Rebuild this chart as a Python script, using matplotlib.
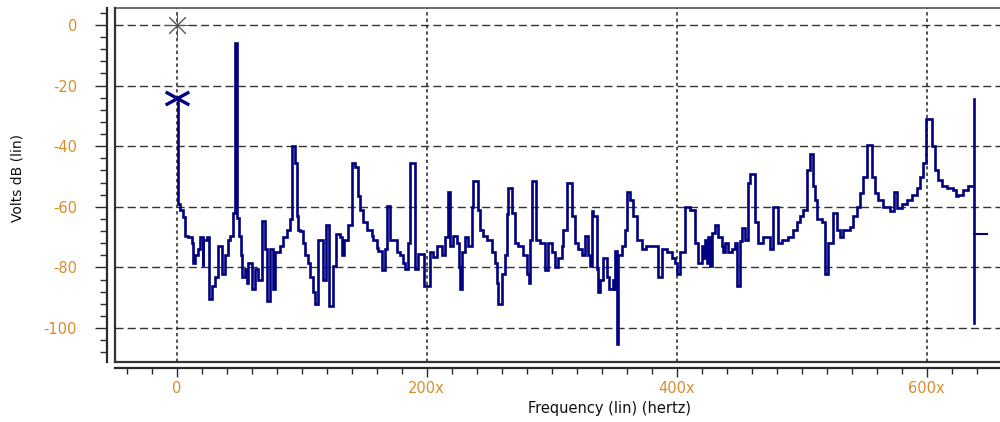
import matplotlib
matplotlib.use("Agg")
import matplotlib.pyplot as plt
from matplotlib.path import Path
from matplotlib.lines import Line2D
from matplotlib.ticker import MultipleLocator, FixedLocator

# ---------------- data ----------------
freq_hz = [
    0, 1, 2.8, 4.8, 6.7, 9.5, 12, 13, 14.8, 17, 19, 21, 21.5, 24, 26, 28, 31, 33.5,
    36, 38.5, 41.5, 43, 45.5, 47, 48.3, 50.3, 51.5, 52.2, 54.8, 56.5, 57.5, 60.2,
    62.8, 65.5, 68, 70.8, 72, 74.8, 77.5, 78.8, 82.8, 85.5, 88, 90.8, 92.1, 94.8,
    96, 97.5, 98.8, 101.5, 102.8, 105, 107, 109, 110.8, 113.5, 117, 119.5, 122,
    125.5, 127.5, 131, 132.5, 134, 137.5, 140, 143, 145, 147, 149.5, 152, 156,
    157.5, 160, 161.5, 164.5, 167, 168.5, 171, 176, 178.8, 181, 183, 185.5, 187,
    190.5, 193.5, 198, 200, 202.5, 205.5, 208, 212, 214.8, 217.5, 219, 221.5,
    224, 226, 226.5, 228.5, 231, 233.5, 236, 237.5, 241.5, 243, 245.5, 248, 252,
    254.8, 256, 257.5, 260, 262.8, 264, 265.5, 268.5, 271, 273.5, 277.5, 280,
    282, 283, 284.5, 287.5, 290.8, 294.8, 297.5, 300, 302.8, 305.5, 308, 309.5,
    312, 316, 318.8, 321.5, 324, 326.8, 329.5, 331, 332.2, 333.5, 336, 337.5,
    339, 341.5, 344, 346, 348.8, 350, 351, 352, 353.5, 356, 358.8, 360, 362.8,
    365.5, 368, 372, 375.5, 380, 385.5, 388, 392, 396, 398.8, 400.5, 402.8,
    406.8, 410.8, 414.8, 417.5, 420, 421.5, 422.8, 424.5, 425.5, 427, 428.1,
    430.8, 433.5, 436, 437.5, 438.8, 441.5, 444, 446.8, 448.5, 450.8, 452,
    454.8, 457.5, 458.8, 462.8, 465.5, 469.5, 474.8, 477.5, 480.8, 484, 489.5,
    493.5, 496, 498.8, 501.5, 504, 506.8, 509.5, 510.8, 512, 516, 518.8, 521.5,
    525.5, 528.1, 530.8, 533.5, 538.8, 541.5, 544, 546.8, 549.5, 552.1, 556.1,
    558.8, 561.5, 565.5, 570.8, 574, 576.6, 580.1, 584, 588, 592.1, 594.8,
    597.5, 599.6, 604.1, 606.8, 609.5, 612.1, 616.1, 621.5, 623.5, 625.5,
    629.5, 633.5, 636,
]
volts_db = [
    -24, -59, -61, -63.3, -69.5, -70, -72, -78.5, -76, -74, -70, -79.5, -71, -70,
    -90.5, -86, -83, -73, -82, -76, -71, -69.7, -62, -6, -63.6, -69.7, -76, -83,
    -80.6, -85, -78.5, -87, -80.6, -84, -64.7, -74, -91, -74, -87, -75, -73, -70,
    -67.5, -64, -40, -45.5, -63, -67.5, -68, -72, -76, -78.5, -83, -88, -92, -71,
    -84, -66, -92.7, -79.5, -69, -70, -76, -71, -66, -45.5, -47, -56.5, -61, -65,
    -67.5, -69.7, -71, -73.5, -74.6, -81, -74, -59.6, -71, -75, -76, -78.5, -80.6,
    -72, -45.5, -80.6, -75.5, -86, -86, -75, -76.5, -73, -76, -70, -55, -73,
    -69.7, -72, -80, -87, -75, -70, -73, -60, -51.5, -61, -67.5, -69.7, -71, -75,
    -78.5, -85, -92, -82, -76, -62.5, -53.7, -62, -72, -73, -76, -82, -85, -71,
    -51.5, -71, -72, -81, -72, -75, -80, -77, -73, -67.5, -52, -63, -72, -74,
    -76, -69.7, -76, -79.5, -61.4, -63, -80.6, -88, -84, -77, -83, -87, -84,
    -87, -74.6, -105.4, -76, -73, -67.5, -55, -57.6, -63, -71, -74, -73, -73,
    -83, -74, -75, -77, -78.5, -82, -75, -60, -61, -72, -78.5, -73, -77, -71,
    -78.5, -70, -79.5, -68.5, -66, -70, -73, -75, -72, -75, -74, -72, -86,
    -71.3, -67, -71, -52, -49.3, -65, -72, -70, -74, -60, -72, -71, -70, -67.5,
    -65, -63, -61, -47.7, -42.7, -53, -57.6, -64, -65, -82, -72, -62, -67.5,
    -70, -67.5, -66.5, -63, -60, -55.4, -50, -39.5, -50, -55.4, -57.6, -60,
    -61.4, -55, -60.4, -59, -57.6, -56, -53.7, -50, -45.5, -31, -40, -47.7,
    -51, -53, -53.7, -54.3, -56.5, -56, -54.3, -53, -53,
]

# markers / cursor
ref_marker = (0, 0)          # thin asterisk
peak_marker = (0, -24)       # navy X
cursor_freq = [638, 638]
cursor_db = [-24.4, -98.3]
cursor_tick_freq = [638, 648.5]
cursor_tick_db = [-69, -69]

x_major = [0, 200, 400, 600]
x_labels = ["0", "200x", "400x", "600x"]
y_major = [0, -20, -40, -60, -80, -100]
y_labels = ["0", "-20", "-40", "-60", "-80", "-100"]

# ---------------- figure ----------------
W, H = 1000, 422
fig = plt.figure(figsize=(W / 100, H / 100), dpi=100)
fig.patch.set_facecolor("white")

left_px, right_px, top_px, bottom_px = 115, 1000, 8, 362
ax = fig.add_axes([left_px / W, 1 - bottom_px / H,
                   (right_px - left_px) / W, (bottom_px - top_px) / H])
ax.set_xlim(-49.2, 658.8)
ax.set_ylim(-111.2, 5.6)

navy = "#000080"
label_col = "#D98E2B"
dark = "#2a2a2a"

# grid
for yv in y_major:
    ax.axhline(yv, color="#333333", lw=1.0, ls=(0, (5.8, 3.0)), zorder=1)
for xv in x_major:
    ax.axvline(xv, color="#222222", lw=1.1, ls=(0, (2.2, 2.0)), zorder=1)

# spectrum
ax.plot(freq_hz, volts_db, color=navy, lw=1.9, drawstyle="steps-post",
        solid_joinstyle="miter", zorder=3)

# cursor
ax.plot(cursor_freq, cursor_db, color=navy, lw=1.9, zorder=3, clip_on=False)
ax.plot(cursor_tick_freq, cursor_tick_db, color=navy, lw=1.5, zorder=3,
        clip_on=False)

# markers
xpath = Path([(-1, -0.55), (1, 0.55), (-1, 0.55), (1, -0.55)],
             [Path.MOVETO, Path.LINETO, Path.MOVETO, Path.LINETO])
ax.plot([peak_marker[0]], [peak_marker[1]], marker=xpath, ms=17,
        mew=2.4, mec=navy, ls="none", zorder=4)
ax.plot([ref_marker[0]], [ref_marker[1]], marker=(8, 2, 0), ms=17,
        mew=0.7, mec="#555555", ls="none", zorder=4)

# spines / axes lines
for s in ["right"]:
    ax.spines[s].set_visible(False)
ax.spines["top"].set_color("#555555")
ax.spines["top"].set_linewidth(1.2)
ax.spines["left"].set_position(("outward", 5.8))
ax.spines["bottom"].set_position(("outward", 4.3))
for s in ["left", "bottom"]:
    ax.spines[s].set_color(dark)
    ax.spines[s].set_linewidth(1.6)

# frame lines (plot box left & bottom)
ax.add_line(Line2D([0, 0], [0, 1], transform=ax.transAxes, color="#333333",
                   lw=1.6, clip_on=False, zorder=5))
ax.add_line(Line2D([0, 1], [0, 0], transform=ax.transAxes, color="#333333",
                   lw=1.6, clip_on=False, zorder=5))

# ticks
ax.xaxis.set_major_locator(FixedLocator(x_major))
ax.set_xticklabels(x_labels)
ax.xaxis.set_minor_locator(MultipleLocator(20))
ax.yaxis.set_major_locator(FixedLocator(y_major))
ax.set_yticklabels(y_labels)
ax.yaxis.set_minor_locator(MultipleLocator(4))

ax.tick_params(axis="y", which="major", direction="out", length=8.6,
               width=1.0, color=dark, pad=13, labelsize=10.5,
               labelcolor=label_col)
ax.tick_params(axis="y", which="minor", direction="out", length=5,
               width=1.0, color=dark)
ax.tick_params(axis="x", which="major", direction="out", length=6.5,
               width=1.0, color=dark, pad=3, labelsize=10.5,
               labelcolor=label_col)
ax.tick_params(axis="x", which="minor", direction="out", length=4.5,
               width=1.0, color=dark)

fig.text(0.018, 1 - 178 / H, "Volts dB (lin)", rotation=90, ha="center",
         va="center", fontsize=10, color="#111111")
fig.text(610 / W, 1 - 408 / H, "Frequency (lin) (hertz)", ha="center",
         va="center", fontsize=10.5, color="#111111")

fig.savefig("out.png", dpi=100, facecolor="white")
